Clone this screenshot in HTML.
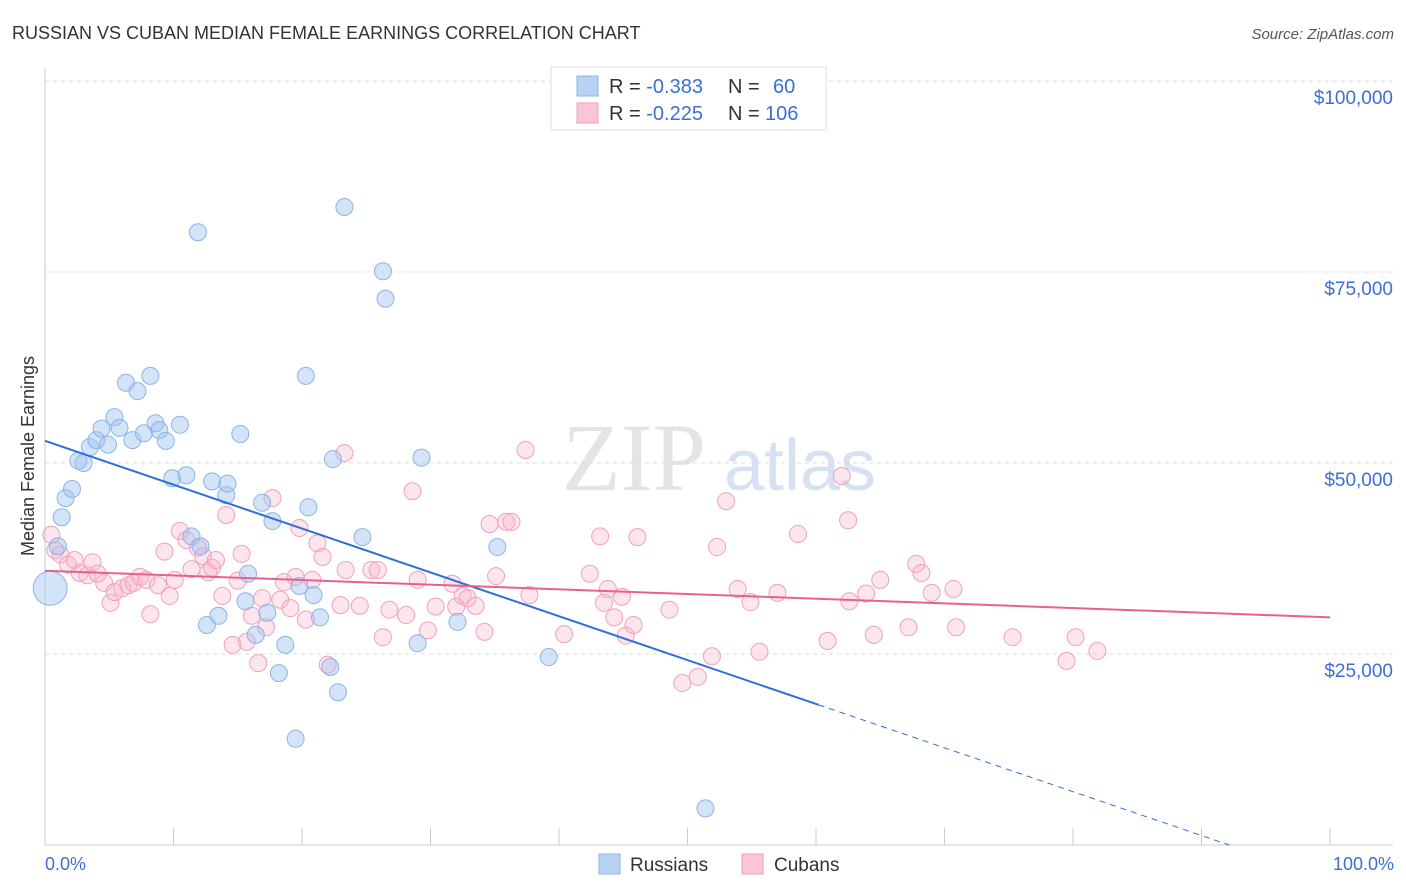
<!DOCTYPE html>
<html><head><meta charset="utf-8">
<style>
body{margin:0;background:#fff;font-family:"Liberation Sans",sans-serif;}
#wrap{position:relative;width:1406px;height:892px;overflow:hidden;}
</style></head>
<body>
<div id="wrap">
<svg id="svg" width="1406" height="892" xmlns="http://www.w3.org/2000/svg">
  <text x="12" y="39" font-size="18" fill="#333">RUSSIAN VS CUBAN MEDIAN FEMALE EARNINGS CORRELATION CHART</text>
  <text x="1394" y="39" font-size="15" fill="#555" font-style="italic" text-anchor="end">Source: ZipAtlas.com</text>
  <text x="634" y="490" font-size="96" fill="#e4e4e4" font-family="Liberation Serif,serif" text-anchor="middle">ZIP</text>
  <text x="800" y="490" font-size="72" fill="#d6e2f3" text-anchor="middle">atlas</text>
  <g id="grid"></g>
  <g id="axes"></g>
  <g id="pts"></g>
  <g id="trend"></g>
  <text transform="translate(34,456) rotate(-90)" font-size="18" fill="#333" text-anchor="middle">Median Female Earnings</text>
  <text x="45" y="870" font-size="18" fill="#3b6fd0">0.0%</text>
  <text x="1394" y="870" font-size="18" fill="#3b6fd0" text-anchor="end">100.0%</text>
  <g>
    <rect x="551" y="67" width="275" height="63" fill="#fff" stroke="#ddd"/>
    <rect x="577" y="76" width="21" height="20" fill="#b8d2f4" stroke="#8ab4e8"/>
    <rect x="577" y="103" width="21" height="20" fill="#fac6d6" stroke="#f0a0bc"/>
    <text x="609" y="93" font-size="20" fill="#333">R = <tspan fill="#3b6fd0">-0.383</tspan><tspan x="728">N =</tspan><tspan x="773" fill="#3b6fd0">60</tspan></text>
    <text x="609" y="120" font-size="20" fill="#333">R = <tspan fill="#3b6fd0">-0.225</tspan><tspan x="728">N =</tspan><tspan x="765" fill="#3b6fd0">106</tspan></text>
  </g>
  <g>
    <rect x="599" y="854" width="21" height="20" fill="#b8d2f4" stroke="#8ab4e8"/>
    <text x="630" y="871" font-size="19" fill="#333">Russians</text>
    <rect x="742" y="854" width="21" height="20" fill="#fac6d6" stroke="#f0a0bc"/>
    <text x="774" y="871" font-size="19" fill="#333">Cubans</text>
  </g>
</svg>
</div>
<script>
const yTicks=[25000,50000,75000,100000];
const yTickLabels=["$25,000","$50,000","$75,000","$100,000"];
const xTicks=[0,10,20,30,40,50,60,70,80,90,100];
const russX=[0.4,1.0,1.3,1.6,2.1,2.6,3.0,3.5,4.0,4.4,4.9,5.4,5.8,6.3,6.8,7.2,7.7,8.2,8.6,8.9,9.4,9.9,10.5,11.0,11.4,11.9,12.1,12.6,13.0,13.5,14.1,14.2,15.2,15.6,15.8,16.4,16.9,17.3,17.7,18.2,18.7,19.5,19.8,20.3,20.5,20.9,21.4,22.2,22.4,22.8,23.3,24.7,26.3,26.5,29.0,29.3,32.1,35.2,39.2,51.4];
const russY=[33.6,39.1,42.9,45.4,46.6,50.3,50.0,52.1,53.0,54.5,52.4,56.0,54.6,60.5,53.0,59.4,53.9,61.4,55.2,54.3,52.9,48.0,55.0,48.4,40.4,80.2,39.1,28.8,47.6,30.0,45.8,47.3,53.8,31.9,35.5,27.5,44.8,30.4,42.4,22.5,26.2,13.9,33.9,61.4,44.2,32.7,29.8,23.3,50.5,20.0,83.5,40.3,75.1,71.5,26.4,50.7,29.2,39.0,24.6,4.8];
const cubX=[0.5,0.8,1.2,1.8,2.3,2.7,3.3,3.7,4.1,4.6,5.1,5.4,6.0,6.5,6.9,7.4,7.9,8.2,8.8,9.3,9.7,10.1,10.5,11.0,11.4,11.9,12.3,12.7,13.0,13.3,13.8,14.1,14.6,15.0,15.3,15.7,16.1,16.6,16.9,17.2,17.7,18.3,18.6,19.1,19.5,19.8,20.3,20.8,21.2,21.6,22.0,23.0,23.3,23.4,24.5,25.4,25.9,26.3,26.8,28.1,28.6,29.0,29.8,30.4,31.7,32.0,32.5,32.9,33.5,34.2,34.6,35.1,35.9,36.3,37.4,37.7,40.4,42.4,43.2,43.5,43.8,44.3,44.9,45.2,45.8,46.1,48.6,49.6,50.8,51.9,52.3,53.0,53.9,54.9,55.6,57.0,58.6,60.9,62.0,62.5,62.6,63.9,64.5,65.0,67.2,67.8,68.2,69.0,70.7,70.9,75.3,79.5,80.2,81.9];
const cubY=[40.6,38.6,38.0,36.7,37.3,35.6,35.3,37.0,35.5,34.3,31.7,33.1,33.6,34.0,34.3,35.1,34.7,30.2,34.0,38.4,32.6,34.7,41.1,39.9,36.1,38.9,37.8,35.7,36.3,37.3,32.6,43.2,26.2,34.6,38.1,26.6,30.0,23.8,32.3,28.5,45.4,32.1,34.4,31.0,35.1,41.5,29.5,34.7,39.5,37.7,23.6,31.4,51.3,36.0,31.3,36.0,36.0,27.2,30.8,30.1,46.3,34.7,28.1,31.2,34.2,31.2,32.6,32.3,31.3,27.9,42.0,35.2,42.3,42.3,51.7,32.7,27.6,35.5,40.4,31.7,33.5,29.8,32.5,27.4,28.8,40.3,30.8,21.2,22.0,24.7,39.0,45.0,33.5,31.8,25.3,33.0,40.7,26.7,48.3,42.5,31.9,32.9,27.5,34.7,28.5,36.8,35.6,33.0,33.5,28.5,27.2,24.1,27.2,25.4];
const russTrend=[52.9,-0.574];
const cubTrend=[35.9,-0.061];
const russSolidEnd=60.2;

const NS="http://www.w3.org/2000/svg";
const X0=45,X1=1330,Y0=845,YPX=191/25000;
const sx=v=>X0+(X1-X0)*v/100;
const sy=v=>Y0-v*YPX;
function mk(tag,attrs,parent){const e=document.createElementNS(NS,tag);for(const k in attrs)e.setAttribute(k,attrs[k]);parent.appendChild(e);return e;}
const grid=document.getElementById('grid'),axes=document.getElementById('axes'),pts=document.getElementById('pts'),trend=document.getElementById('trend');
yTicks.forEach((t,i)=>{
  const l=mk('line',{x1:X0,x2:1393,y1:sy(t),y2:sy(t),stroke:'#dcdcdc','stroke-dasharray':'4,4'},grid);
  
  
  const tx=mk('text',{x:1393,y:sy(t)+23,'font-size':19,fill:'#3b6fd0','text-anchor':'end'},grid);
  tx.textContent=yTickLabels[i];
  
  
});
const ya=mk('line',{x1:X0,x2:X0,y1:68,y2:Y0,stroke:'#ccc'},axes);


const xa=mk('line',{x1:X0,x2:1393,y1:Y0,y2:Y0,stroke:'#ccc'},axes);


xTicks.forEach(t=>{
  const l=mk('line',{x1:sx(t),x2:sx(t),y1:Y0,y2:Y0-17,stroke:'#ccc'},axes);
  
  
});
cubX.forEach((x,i)=>{
  const c=mk('circle',{cx:sx(x),cy:sy(cubY[i]*1000),r:8.5,fill:'rgba(248,180,204,0.35)',stroke:'#f0a0bc','stroke-width':1},pts);
  
  
});
russX.forEach((x,i)=>{
  const c=mk('circle',{cx:sx(x),cy:sy(russY[i]*1000),r:i===0?17:8.5,fill:'rgba(160,196,240,0.45)',stroke:'#8ab4e8','stroke-width':1},pts);
  
  
});
const rt=x=>(russTrend[0]+russTrend[1]*x)*1000;
const ct=x=>(cubTrend[0]+cubTrend[1]*x)*1000;
const zeroX=-russTrend[0]/russTrend[1];
const l1=mk('line',{x1:sx(0),y1:sy(rt(0)),x2:sx(russSolidEnd),y2:sy(rt(russSolidEnd)),stroke:'#2f6fd8','stroke-width':2},trend);


const l2=mk('line',{x1:sx(russSolidEnd),y1:sy(rt(russSolidEnd)),x2:sx(zeroX),y2:sy(0),stroke:'#2f6fd8','stroke-width':1,'stroke-dasharray':'6,5'},trend);


const l3=mk('line',{x1:sx(0),y1:sy(ct(0)),x2:sx(100),y2:sy(ct(100)),stroke:'#e8608f','stroke-width':2},trend);


</script>
</body></html>
